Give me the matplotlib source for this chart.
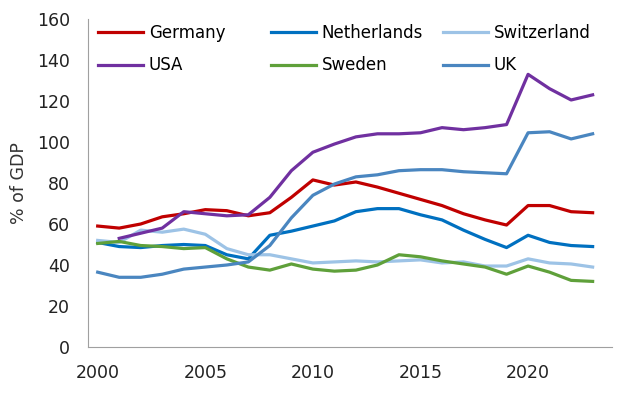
import matplotlib.pyplot as plt
from matplotlib.legend import Legend

years = list(range(2000, 2024))

germany = [59, 58, 60, 63.5, 65, 67, 66.5, 64, 65.5, 73, 81.5, 79, 80.5, 78, 75, 72, 69, 65, 62, 59.5, 69, 69, 66, 65.5]
netherlands = [51, 49, 48.5, 49.5, 50, 49.5, 45, 43, 54.5, 56.5, 59, 61.5, 66, 67.5, 67.5, 64.5, 62, 57, 52.5, 48.5, 54.5, 51, 49.5, 49]
switzerland = [52, 51, 57, 56, 57.5, 55, 48, 45, 45, 43, 41, 41.5, 42, 41.5, 42, 42.5, 41, 41.5, 39.5, 39.5, 43, 41, 40.5, 39]
usa_years = years[1:]
usa = [53, 55.5, 58, 66, 65, 64, 64.5, 73, 86, 95, 99, 102.5, 104, 104, 104.5, 107, 106, 107, 108.5, 133, 126, 120.5, 123]
sweden = [50.5, 51.5, 49.5, 49, 48, 48.5, 43, 39, 37.5, 40.5, 38, 37, 37.5, 40, 45, 44, 42, 40.5, 39, 35.5, 39.5, 36.5, 32.5, 32]
uk = [36.5, 34, 34, 35.5, 38, 39, 40, 41.5, 49.5, 63, 74, 79.5, 83, 84, 86, 86.5, 86.5, 85.5, 85, 84.5, 104.5, 105, 101.5, 104]

plt.rcParams['font.family'] = ['DejaVu Sans']

fig = plt.figure(figsize=(6.39, 3.96), dpi=100)
# axes box in pixels: left 88, right 612, top 19, bottom 347
ax = fig.add_axes([88 / 639, 49 / 396, 524 / 639, 328 / 396])

lw = 2.3
l_de, = ax.plot(years, germany, color='#C00000', lw=lw, label='Germany')
l_nl, = ax.plot(years, netherlands, color='#0070C0', lw=lw, label='Netherlands')
l_ch, = ax.plot(years, switzerland, color='#9DC3E6', lw=lw, label='Switzerland')
l_us, = ax.plot(usa_years, usa, color='#7030A0', lw=lw, label='USA')
l_se, = ax.plot(years, sweden, color='#5FA03A', lw=lw, label='Sweden')
l_uk, = ax.plot(years, uk, color='#4A86C0', lw=lw, label='UK')

ax.set_xlim(1999.55, 2023.9)
ax.set_ylim(0, 160)
ax.set_yticks(range(0, 161, 20))
ax.set_xticks([2000, 2005, 2010, 2015, 2020])
ax.tick_params(axis='y', length=0, labelsize=12.5, colors='#222222', pad=13)
ax.tick_params(axis='x', length=0, labelsize=12.5, colors='#222222', pad=12)
ax.set_ylabel('% of GDP', fontsize=12.5, color='#333333', labelpad=6)

for s in ['top', 'right']:
    ax.spines[s].set_visible(False)
for s in ['left', 'bottom']:
    ax.spines[s].set_color('#A0A0A0')

# legend: three columns, placed one by one
cols = [([l_de, l_us], 0.019), ([l_nl, l_se], 0.349), ([l_ch, l_uk], 0.677)]
for hs, xpos in cols:
    leg = Legend(ax, hs, [h.get_label() for h in hs], frameon=False, loc='upper left',
                 bbox_to_anchor=(xpos, 0.984), fontsize=12,
                 handlelength=2.7, handletextpad=0.35, labelspacing=0.85,
                 borderpad=0, borderaxespad=0)
    ax.add_artist(leg)

plt.savefig('out.png', dpi=100)
